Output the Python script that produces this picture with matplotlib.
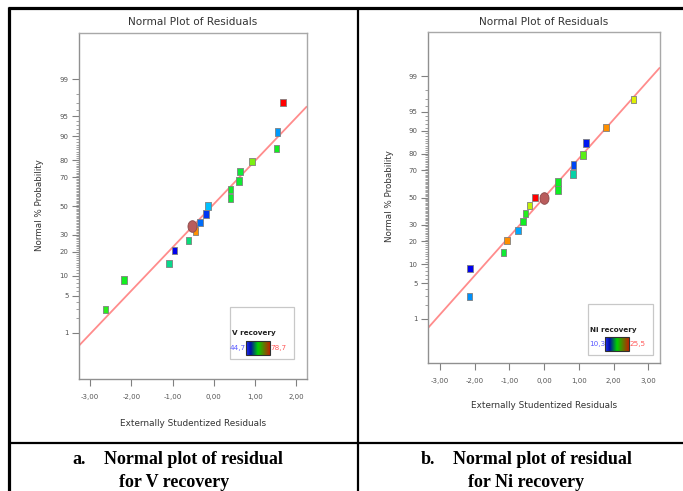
import numpy as np
import matplotlib
matplotlib.use("Agg")
import matplotlib.pyplot as plt
from matplotlib.colors import LinearSegmentedColormap, Normalize
from matplotlib.lines import Line2D
from matplotlib.patches import Rectangle
from matplotlib.path import Path
from statistics import NormalDist
import matplotlib.colorbar as mcolorbar

# ---------------- data ----------------
# Panel a: V recovery
v_resid = [-2.63, -2.18, -1.09, -0.95, -0.61, -0.44, -0.34, -0.19, -0.14,
           0.41, 0.41, 0.61, 0.64, 0.93, 1.52, 1.54, 1.68]
v_prob = [2.9, 8.8, 14.7, 20.6, 26.5, 32.4, 38.2, 44.1, 50.0,
          55.9, 61.8, 67.6, 73.5, 79.4, 85.3, 91.2, 97.1]
v_resp = [62.7, 61.7, 57.6, 44.7, 58.3, 74.3, 49.5, 47.1, 53.2,
          61.0, 61.4, 61.0, 60.7, 65.8, 61.7, 51.5, 78.7]
v_mark_x, v_mark_p = [-0.53], [35.9]
v_fit = (0.035, 0.793)          # intercept, slope (normal-score space)
v_range = (44.7, 78.7)
v_xlim = (-3.27, 2.26)
v_xticks = [-3, -2, -1, 0, 1, 2]

# Panel b: Ni recovery
ni_resid = [-2.16, -2.14, -1.17, -1.07, -0.75, -0.61, -0.54, -0.43, -0.26,
            0.40, 0.40, 0.83, 0.84, 1.12, 1.21, 1.79, 2.58]
ni_prob = [2.9, 8.6, 14.6, 20.6, 26.4, 32.4, 38.0, 43.8, 50.0,
           55.7, 61.7, 67.4, 73.3, 79.2, 85.2, 90.9, 97.0]
ni_resp = [13.2, 10.3, 17.6, 23.5, 13.6, 17.9, 18.2, 20.9, 25.5,
           17.9, 17.9, 15.6, 11.7, 19.1, 10.8, 23.5, 21.4]
ni_mark_x, ni_mark_p = [0.0], [50.0]
ni_fit = (0.0, 0.746)
ni_range = (10.3, 25.5)
ni_xlim = (-3.35, 3.34)
ni_xticks = [-3, -2, -1, 0, 1, 2, 3]

y_major = [1, 5, 10, 20, 30, 50, 70, 80, 90, 95, 99]
y_minor = [p for p in range(1, 100) if p not in y_major]
z_lim = 3.17

# ---------------- helpers ----------------
W, H = 683, 491
nd = NormalDist()
_ppf = np.vectorize(nd.inv_cdf, otypes=[float])
_cdf = np.vectorize(nd.cdf, otypes=[float])


def fwd(p):
    p = np.asarray(p, float)
    q = np.clip(p / 100.0, 1e-9, 1 - 1e-9)
    return _ppf(q)


def inv(z):
    return _cdf(np.asarray(z, float)) * 100.0


def fx(px):
    return px / W


def fy(py):
    return 1 - py / H


pts_cmap = LinearSegmentedColormap.from_list(
    "de", [(0, "#0000ee"), (0.25, "#00c0ff"), (0.5, "#10ee20"),
           (0.75, "#f0f000"), (0.87, "#ff9000"), (1, "#ff0000")])
bar_cmap = LinearSegmentedColormap.from_list(
    "bar", [(0, "#2030ff"), (0.2, "#0010a0"), (0.5, "#00d000"), (1, "#c02000")])

rect_marker = Path([(-0.75, -1), (0.75, -1), (0.75, 1), (-0.75, 1), (-0.75, -1)],
                   [Path.MOVETO, Path.LINETO, Path.LINETO, Path.LINETO, Path.CLOSEPOLY])
t = np.linspace(0, 2 * np.pi, 40)
ell_marker = Path(np.column_stack([0.78 * np.cos(t), np.sin(t)]))

narrow = ["Liberation Sans Narrow", "DejaVu Sans"]

fig = plt.figure(figsize=(W / 100, H / 100), dpi=100)


def panel(box, resid, prob, resp, mx, mp, fit, rng, xlim, xticks,
          title_xy, xlabel_xy, ylabel_xy, legbox, legname, cbbox, lo_xy, hi_xy):
    l, t_, r, b = box
    ax = fig.add_axes([fx(l), fy(b), fx(r - l), (b - t_) / H])
    ax.set_yscale("function", functions=(fwd, inv))
    ax.set_xlim(*xlim)
    ax.set_ylim(inv(-z_lim), inv(z_lim))
    for s in ax.spines.values():
        s.set_color("#a8a8a8")
        s.set_linewidth(1.0)
    ax.spines["left"].set_color("#909090")
    ax.spines["bottom"].set_color("#909090")

    # fit line
    xs = np.array(xlim)
    ax.plot(xs, inv(fit[0] + fit[1] * xs), color="#ff8c8c", lw=1.3, zorder=2,
            solid_capstyle="butt")

    norm = Normalize(*rng)
    ax.scatter(resid, prob, c=resp, cmap=pts_cmap, norm=norm, marker=rect_marker,
               s=28, edgecolors="#808080", linewidths=0.6, zorder=3)
    ax.scatter(mx, mp, marker=ell_marker, s=70, color="#b95c5c",
               edgecolors="#8a4a4a", linewidths=0.6, zorder=4)

    ax.set_yticks(y_major)
    ax.set_yticklabels([str(v) for v in y_major])
    ax.set_yticks(y_minor, minor=True)
    ax.set_xticks(xticks)
    ax.set_xticklabels([f"{v:.2f}".replace(".", ",") for v in xticks])
    ax.tick_params(axis="y", which="major", length=5, width=0.8, color="#808080",
                   pad=2.5, labelsize=5, labelcolor="#555555")
    ax.tick_params(axis="y", which="minor", length=2.2, width=0.6, color="#909090")
    ax.tick_params(axis="x", which="major", length=5, width=0.8, color="#808080",
                   pad=5.5, labelsize=5, labelcolor="#555555")
    ax.tick_params(axis="x", which="minor", length=0)
    for lab in ax.get_xticklabels() + ax.get_yticklabels():
        lab.set_family(narrow)

    fig.text(fx(title_xy[0]), fy(title_xy[1]), "Normal Plot of Residuals",
             ha="center", va="center", fontsize=7.6, color="#333333", family=narrow)
    fig.text(fx(xlabel_xy[0]), fy(xlabel_xy[1]), "Externally Studentized Residuals",
             ha="center", va="center", fontsize=6.4, color="#333333", family=narrow)
    fig.text(fx(ylabel_xy[0]), fy(ylabel_xy[1]), "Normal % Probability",
             ha="center", va="center", rotation=90, fontsize=6.3, color="#333333",
             family="DejaVu Sans")

    # legend box
    lx0, ly0, lx1, ly1 = legbox
    fig.add_artist(Rectangle((fx(lx0), fy(ly1)), fx(lx1 - lx0), (ly1 - ly0) / H,
                             transform=fig.transFigure, facecolor="white",
                             edgecolor="#c8c8c8", lw=0.9, zorder=5))
    fig.text(fx(lx0 + 2), fy((ly0 + ly1) / 2 + 0.5), legname, ha="left", va="center",
             fontsize=5.2, fontweight="bold", color="#222222", family=narrow, zorder=6)
    cx0, cy0, cx1, cy1 = cbbox
    cax = fig.add_axes([fx(cx0), fy(cy1), fx(cx1 - cx0), (cy1 - cy0) / H], zorder=7)
    cb = mcolorbar.ColorbarBase(cax, cmap=bar_cmap, norm=norm, orientation="horizontal")
    cb.set_ticks([])
    cb.outline.set_linewidth(0.8)
    cb.outline.set_edgecolor("#303030")
    fig.text(fx(lo_xy[0]), fy(lo_xy[1]), f"{rng[0]:.1f}".replace(".", ","),
             ha="center", va="center", fontsize=5.2, color="#5a5aff", family=narrow, zorder=8)
    fig.text(fx(hi_xy[0]), fy(hi_xy[1]), f"{rng[1]:.1f}".replace(".", ","),
             ha="center", va="center", fontsize=5.2, color="#ff5a5a", family=narrow, zorder=8)
    return ax


panel((79, 33, 307, 379), v_resid, v_prob, v_resp, v_mark_x, v_mark_p, v_fit,
      v_range, v_xlim, v_xticks, (193, 22), (193, 423), (39, 205),
      (230, 307, 294, 359), "V recovery", (246, 341, 270, 355), (238, 348), (278.5, 348))
panel((428, 32, 660, 363), ni_resid, ni_prob, ni_resp, ni_mark_x, ni_mark_p, ni_fit,
      ni_range, ni_xlim, ni_xticks, (544, 22), (544, 405), (390, 196),
      (588, 304, 653, 355), "Ni recovery", (605, 337, 629, 351), (597, 344), (638, 344))

# table borders
def hline(y, x0, x1, lw):
    fig.add_artist(Line2D([fx(x0), fx(x1)], [fy(y), fy(y)], transform=fig.transFigure,
                          color="black", lw=lw, solid_capstyle="butt"))


def vline(x, y0, y1, lw):
    fig.add_artist(Line2D([fx(x), fx(x)], [fy(y0), fy(y1)], transform=fig.transFigure,
                          color="black", lw=lw, solid_capstyle="butt"))


hline(7.8, 7.5, 683, 2.3)
vline(9, 6.5, 491, 2.3)
vline(357.5, 6.5, 491, 1.6)
hline(442.5, 7.5, 683, 1.6)

# captions
cap = dict(fontsize=13, fontweight="bold", family="Liberation Serif", va="baseline",
           ha="left", color="black")
fig.text(fx(72), fy(464), "a.", **cap)
fig.text(fx(104), fy(464), "Normal plot of residual", **cap)
fig.text(fx(119), fy(487), "for V recovery", **cap)
fig.text(fx(421), fy(464), "b.", **cap)
fig.text(fx(453), fy(464), "Normal plot of residual", **cap)
fig.text(fx(468), fy(487), "for Ni recovery", **cap)

fig.savefig("out.png", dpi=100)
